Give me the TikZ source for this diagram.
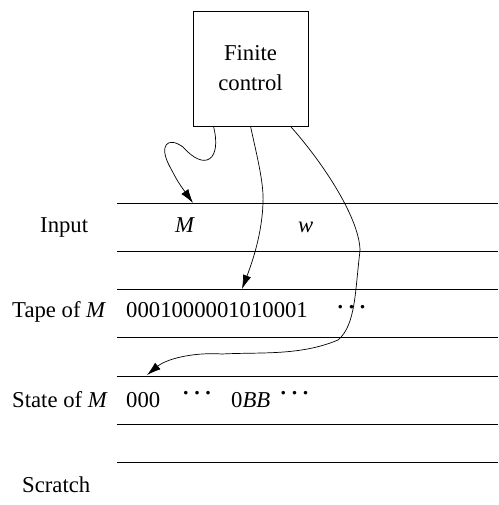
\documentclass[tikz,border=0pt]{standalone}
\usepackage{fontspec}
\setmainfont{Liberation Serif}
\usetikzlibrary{arrows.meta}
\tikzset{
  tapeline/.style = {line width=0.8pt},
  lbl/.style      = {inner sep=0pt, anchor=base west},
  arr/.style      = {-{Latex[length=14pt,width=8.5pt]}, line width=0.7pt}
}
% raised dots
\newcommand\tdots[1]{\raisebox{#1}{\fontsize{30}{30}\selectfont.\kern0.12em.\kern0.12em.}}

\begin{document}
\begin{tikzpicture}[x=1pt, y=-1pt, font=\fontsize{22.7}{30}\selectfont]
    \useasboundingbox (0,0) rectangle (498,505);
    % finite control
    \node[draw, line width=0.8pt, minimum width=115pt, minimum height=115pt,
          align=center] (fc) at (250.5,68.5) {Finite\\control};
    % tape tracks
    \foreach \y in {203,251,289,337,376,424,462}
      \draw[tapeline] (117,\y) -- (498,\y);
    % track labels
    \node[lbl] (input)   at (40,232)  {Input};
    \node[lbl] (tapeM)   at (12,317)  {Tape of \textit{M}};
    \node[lbl] (stateM)  at (12,407)  {State of \textit{M}};
    \node[lbl] (scratch) at (22,492)  {Scratch};
    % track contents
    \node[lbl] (inM)   at (175,232) {\textit{M}};
    \node[lbl] (inw)   at (298,232) {\textit{w}};
    \node[lbl] (code)  at (126,317) {0001000001010001};
    \node[lbl] (dotsA) at (336.5,317) {\tdots{8.5pt}};
    \node[lbl] (st)    at (126,407) {000};
    \node[lbl] (dotsB) at (182,407) {\tdots{12.5pt}};
    \node[lbl] (stB)   at (231,407) {0\textit{BB}};
    \node[lbl] (dotsC) at (279.5,407) {\tdots{12.5pt}};
    % heads
    \coordinate (hdIn)    at (193,203);
    \coordinate (hdTape)  at (242,289);
    \coordinate (hdState) at (147,375);
    \draw[arr] ([xshift=-37pt]fc.south) .. controls (222,160) and (205,172) .. (183,147)
      .. controls (168,136) and (158,145) .. (170,167)
      .. controls (178,182) .. (hdIn);
    \draw[arr] (fc.south) .. controls (258,160) and (264,185) .. (263,203)
      .. controls (262,230) and (255,255) .. (hdTape);
    \draw[arr] ([xshift=40pt]fc.south) .. controls (325,165) and (360,220) .. (360,251)
      .. controls (355,290) and (356,325) .. (338,340)
      .. controls (300,356) and (260,352) .. (222,354)
      .. controls (190,352) and (165,360) .. (hdState);
\end{tikzpicture}
\end{document}
